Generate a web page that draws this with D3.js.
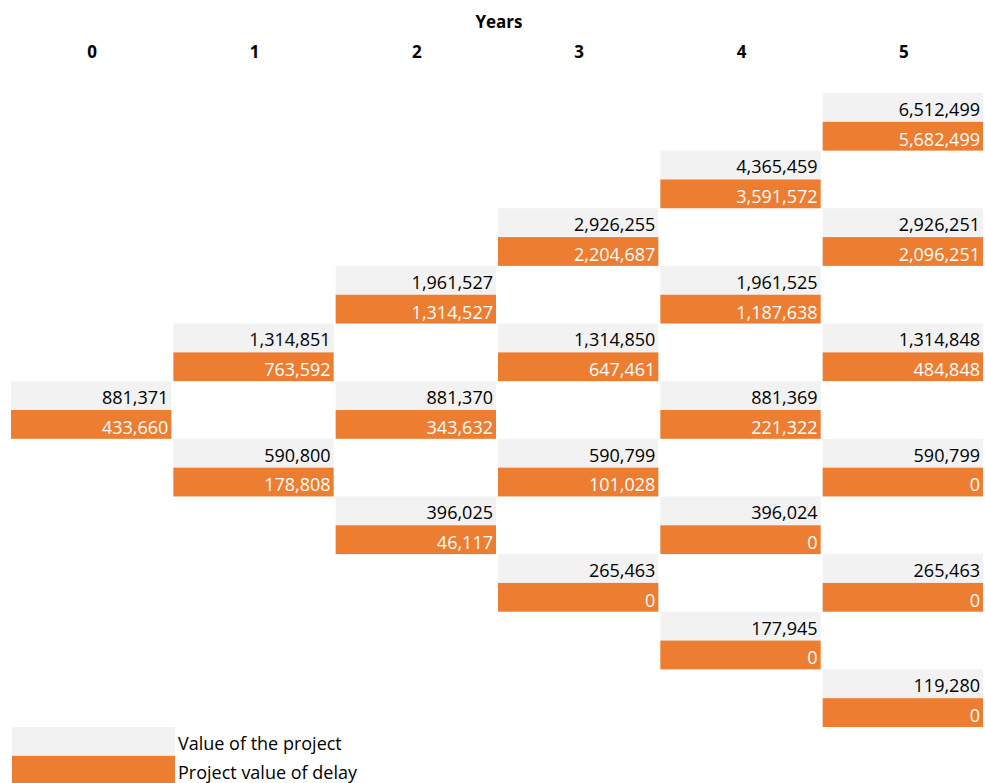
<!DOCTYPE html>
<html><head><meta charset="utf-8">
<script src="https://cdn.jsdelivr.net/npm/d3@7/dist/d3.min.js"></script>
<style>body{margin:0;background:#fff}svg{display:block}</style>
</head><body><svg id="c" width="985" height="783"></svg>
<script>
const years = ["0","1","2","3","4","5"];
const projectValue = [
  [881371],
  [1314851, 590800],
  [1961527, 881370, 396025],
  [2926255, 1314850, 590799, 265463],
  [4365459, 1961525, 881369, 396024, 177945],
  [6512499, 2926251, 1314848, 590799, 265463, 119280]
];
const delayValue = [
  [433660],
  [763592, 178808],
  [1314527, 343632, 46117],
  [2204687, 647461, 101028, 0],
  [3591572, 1187638, 221322, 0, 0],
  [5682499, 2096251, 484848, 0, 0, 0]
];
const legendLabels = ["Value of the project", "Project value of delay"];

const GRAY = "#f2f2f2", ORANGE = "#ed7d31";
const FONT = "'Open Sans', 'Noto Sans', sans-serif";
const FS = 18;
const svg = d3.select("#c");
const x = d3.scaleBand().domain(years).range([11, 983]).paddingInner(2/162).paddingOuter(0);
const y = d3.scaleLinear().domain([0, 22]).range([93, 727]);
const rowH = y(1) - y(0);
const fmt = d3.format(",");

svg.append("text").attr("x", 499).attr("y", 28).attr("text-anchor","middle")
  .attr("font-family", FONT).attr("font-weight","bold").attr("font-size", 17).text("Years");
svg.selectAll("text.yr").data(years).join("text").attr("class","yr")
  .attr("x", d => x(d) + x.bandwidth()/2 + 1).attr("y", 58).attr("text-anchor","middle")
  .attr("font-family", FONT).attr("font-weight","bold").attr("font-size", 17).text(d => d);

const nodes = [];
projectValue.forEach((col, t) => {
  col.forEach((v, j) => {
    const level = (5 - t) + 2*j;
    nodes.push({t, level, v, d: delayValue[t][j]});
  });
});

const g = svg.append("g");
const ng = g.selectAll("g.node").data(nodes).join("g").attr("class","node");
ng.append("rect").attr("x", d => x(years[d.t])).attr("y", d => y(2*d.level))
  .attr("width", x.bandwidth()).attr("height", rowH).attr("fill", GRAY);
ng.append("rect").attr("x", d => x(years[d.t])).attr("y", d => y(2*d.level+1))
  .attr("width", x.bandwidth()).attr("height", rowH).attr("fill", ORANGE);
ng.append("text").attr("x", d => x(years[d.t]) + x.bandwidth() - 3).attr("y", d => y(2*d.level) + rowH - 6)
  .attr("text-anchor","end").attr("font-family", FONT).attr("font-size", FS).attr("fill","#000")
  .text(d => fmt(d.v));
ng.append("text").attr("x", d => x(years[d.t]) + x.bandwidth() - 3).attr("y", d => y(2*d.level+1) + rowH - 5)
  .attr("text-anchor","end").attr("font-family", FONT).attr("font-size", FS).attr("fill","#fff")
  .text(d => fmt(d.d));

const lg = svg.append("g");
legendLabels.forEach((lab, i) => {
  lg.append("rect").attr("x", 12).attr("y", y(22) + i*rowH).attr("width", 163).attr("height", rowH)
    .attr("fill", i === 0 ? GRAY : ORANGE);
  lg.append("text").attr("x", 178).attr("y", y(22) + i*rowH + rowH - 6)
    .attr("font-family", FONT).attr("font-size", FS).attr("fill","#000").text(lab);
});
</script></body></html>
